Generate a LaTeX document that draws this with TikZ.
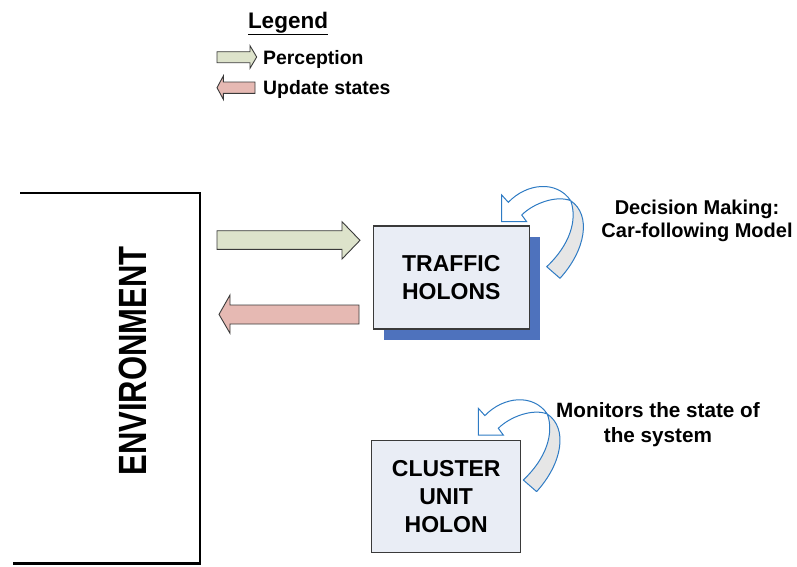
\documentclass[tikz,border=0pt]{standalone}
\usepackage{fontspec}
\setmainfont{Liberation Sans}
\usepackage{tikz}
\usetikzlibrary{shadows}
\definecolor{perceptgreen}{HTML}{DDE3CB}
\definecolor{updatepink}{HTML}{E6B9B3}
\definecolor{holonfill}{HTML}{E9EDF5}
\definecolor{shadowblue}{HTML}{4E72BD}
\definecolor{loopblue}{HTML}{2E7BC4}
\definecolor{loopgray}{HTML}{E6E6E6}
\definecolor{edgegray}{HTML}{3A3A3A}

\tikzset{
  perceptarrow/.style={draw=edgegray, fill=perceptgreen, line width=0.9pt, line join=miter},
  updatearrow/.style={draw=edgegray, fill=updatepink, line width=0.9pt, line join=miter},
  holon/.style={draw=edgegray, fill=holonfill, line width=1.2pt, inner sep=0pt,
    align=center, font=\bfseries\fontsize{23}{27.8}\selectfont},
  note/.style={align=center, font=\bfseries\fontsize{20}{23.5}\selectfont},
  legendtext/.style={anchor=base west, inner sep=0pt, font=\bfseries\fontsize{19.4}{23}\selectfont},
  selfarrow/.pic={
    % twisted lower band
    \draw[loopblue, fill=loopgray, line width=1pt, line join=round]
      (69,5.7) .. controls (90,20) and (84,55) .. (58.3,83.3)
      -- (45,71.7) .. controls (68,50) and (76,25) .. (69,5.7);
    % upper band with the head
    \draw[loopblue, fill=white, line width=1pt, line join=miter]
      (69,5.7) .. controls (55,-15) and (25,-12) .. (6.6,7.3)
      -- (0,0) -- (0,26.7) -- (25,26.7) -- (20,20)
      .. controls (32,8) and (55,0) .. (69,5.7);
  }
}

\begin{document}
\begin{tikzpicture}[x=1pt, y=-1pt]
  \useasboundingbox (0,0) rectangle (797,566);

  % Legend
  \node[anchor=base, font=\bfseries\fontsize{22.5}{26}\selectfont] (legend) at (288,28) {\underline{Legend}};
  \draw[perceptarrow] (217,51.7) -- (250,51.7) -- (250,45.7) -- (256.7,57)
    -- (250,68.3) -- (250,62.7) -- (217,62.7) -- cycle;
  \draw[updatearrow] (255,82) -- (223.3,82) -- (223.3,76) -- (217,87.7)
    -- (223.3,99.3) -- (223.3,93.3) -- (255,93.3) -- cycle;
  \node[legendtext] (perc) at (263,64.3) {Perception};
  \node[legendtext] (upd) at (263,94.3) {Update states};

  % Environment
  \draw[line width=2.6pt] (20,193) -- (200,193) -- (200,563.3) -- (12.7,563.3);
  \node[rotate=90, font=\bfseries\fontsize{31}{34}\selectfont] (env) at (132.8,361)
    {\scalebox{1}[1.27]{ENVIRONMENT}};

  % Holons
  \node[holon, minimum width=156, minimum height=103,
    drop shadow={shadow xshift=11pt, shadow yshift=-11pt, fill=shadowblue, opacity=1}]
    (traffic) at (451.3,277.5) {TRAFFIC\\HOLONS};
  \node[holon, minimum width=149, minimum height=111.6] (cluster) at (446.2,496.5) {CLUSTER\\UNIT\\HOLON};

  % Perception and update between environment and traffic holons
  \draw[perceptarrow] (217,230.7) -- (342,230.7) -- (342,221.7) -- (360,240.3)
    -- (342,259) -- (342,249.3) -- (217,249.3) -- cycle;
  \draw[updatearrow] (359,305) -- (230,305) -- (230,295) -- (219,314.4)
    -- (230,333.3) -- (230,324) -- (359,324) -- cycle;

  % Self loops
  \pic at (501.7,195) {selfarrow};
  \pic at (478.3,408.3) {selfarrow};
  \node[note] (decide) at (697,221) {Decision Making:\\Car-following Model};
  \node[note, font=\bfseries\fontsize{20.7}{25}\selectfont] (monitor) at (658,425) {Monitors the state of\\the system};
\end{tikzpicture}
\end{document}
